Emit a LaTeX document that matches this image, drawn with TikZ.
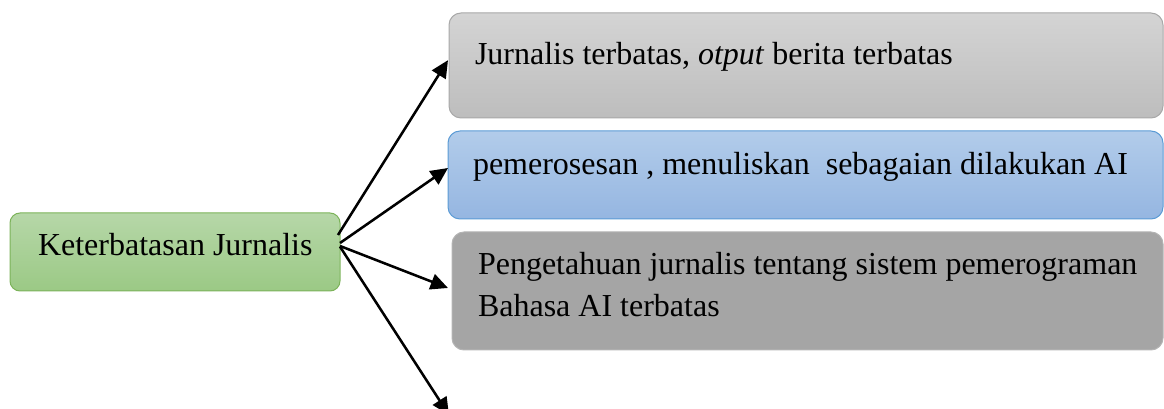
\documentclass[tikz,border=0pt]{standalone}
\usepackage{fontspec}
\setmainfont{Liberation Serif}
\usetikzlibrary{arrows.meta}

\definecolor{greenTop}{HTML}{B6D7A8}
\definecolor{greenBot}{HTML}{9BC985}
\definecolor{greenLine}{HTML}{7CB35A}
\definecolor{greyTop}{HTML}{D4D4D4}
\definecolor{greyBot}{HTML}{BDBDBD}
\definecolor{greyLine}{HTML}{A8A8A8}
\definecolor{blueTop}{HTML}{B2CCEA}
\definecolor{blueBot}{HTML}{95B6E1}
\definecolor{blueLine}{HTML}{5B9BD5}
\definecolor{darkFill}{HTML}{A5A5A5}
\definecolor{darkLine}{HTML}{B4B4B4}

\tikzset{
  panel/.style={rectangle, rounded corners=9pt, inner sep=0pt, outer sep=0pt,
    anchor=north west, line width=0.75pt},
  rootbox/.style={panel, rounded corners=7.5pt, draw=greenLine, top color=greenTop, bottom color=greenBot},
  greybox/.style={panel, draw=greyLine, top color=greyTop, bottom color=greyBot},
  bluebox/.style={panel, draw=blueLine, top color=blueTop, bottom color=blueBot},
  darkbox/.style={panel, draw=darkLine, fill=darkFill},
  label/.style={anchor=base west, inner sep=0pt, outer sep=0pt,
    font=\fontsize{24}{28}\selectfont, text=black},
  link/.style={line width=1.9pt, -{Triangle[length=13pt,width=12pt]}}
}

\begin{document}
\begin{tikzpicture}[x=0.75pt, y=-0.75pt]
  \useasboundingbox (0,0) rectangle (1164,409);

  % root and target boxes
  \node[rootbox, minimum width=247.5pt, minimum height=58.5pt] (g) at (10,213) {};
  \node[greybox, minimum width=535.5pt, minimum height=78.75pt] (b1) at (449,13) {};
  \node[bluebox, minimum width=536.25pt, minimum height=66pt] (b2) at (448,131) {};
  \node[darkbox, minimum width=533.25pt, minimum height=88.5pt] (b3) at (452,232) {};

  % texts
  \node[label] (tg) at (38,256) {Keterbatasan Jurnalis};
  \node[label] (t1) at (475,65) {Jurnalis terbatas, \textit{otput} berita terbatas};
  \node[label] (t2) at (473,175) {pemerosesan , menuliskan\ \ sebagaian dilakukan AI};
  \node[label] (t3a) at (478,275) {Pengetahuan jurnalis tentang sistem pemerograman};
  \node[label] (t3b) at (478,317) {Bahasa AI terbatas};

  % free end of the last connector, just below the page edge
  \coordinate (e4) at (449,415);

  % connectors
  \draw[link] ([xshift=-1.5pt,yshift=12.75pt]g.east) -- ([xshift=-0.75pt,yshift=4pt]b1.west);
  \draw[link] ([yshift=6.75pt]g.east) -- ([yshift=5.25pt]b2.west);
  \draw[link] ([yshift=4.5pt]g.east) -- ([xshift=-3pt,yshift=2.25pt]b3.west);
  \draw[link] ([yshift=4pt]g.east) -- (e4);
\end{tikzpicture}
\end{document}
